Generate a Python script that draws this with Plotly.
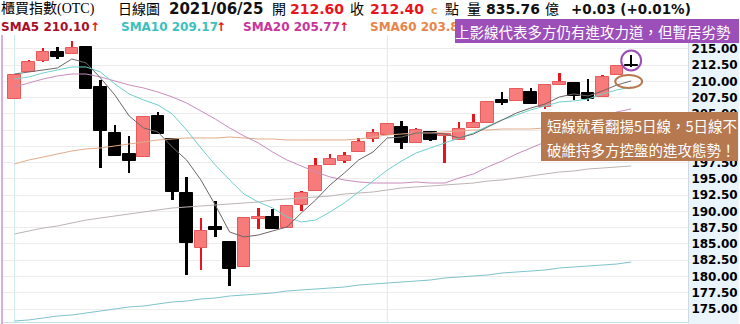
import plotly.graph_objects as go

# ---------------- data ----------------
idx = list(range(44))
opens = [207.31, 211.46, 213.15, 214.54, 214.23, 215.31, 209.15, 202.08, 198.85, 198.38,
         204.69, 201.15, 192.85, 184.38, 187.62, 185.31, 181.46, 188.85, 189.15, 187.46,
         191.00, 193.15, 197.15, 197.77, 199.15, 201.15, 201.77, 203.00, 200.54, 202.23,
         201.60, 201.00, 202.85, 203.62, 207.15, 207.00, 208.38, 206.08, 209.46, 209.77,
         208.23, 207.62, 211.00, 212.60]
highs = [211.00, 213.31, 215.15, 215.31, 216.23, 215.31, 210.23, 203.31, 201.62, 204.54,
         205.31, 201.15, 195.31, 189.00, 191.62, 185.46, 189.15, 190.54, 190.38, 190.85,
         193.15, 198.23, 198.85, 199.15, 201.31, 202.69, 203.62, 203.92, 202.85, 202.23,
         201.92, 203.77, 205.00, 206.85, 208.38, 209.00, 209.00, 209.46, 211.31, 209.77,
         210.38, 211.00, 212.37, 214.08]
lows = [207.31, 211.46, 213.00, 213.46, 214.23, 208.85, 196.69, 198.54, 195.92, 198.38,
        201.92, 191.77, 180.23, 181.00, 186.08, 178.54, 181.46, 187.31, 187.31, 187.46,
        190.08, 193.15, 197.15, 197.46, 199.15, 200.69, 201.77, 199.62, 200.54, 200.85,
        197.46, 201.00, 202.85, 203.62, 206.38, 207.00, 206.54, 205.77, 209.46, 207.15,
        207.00, 207.62, 211.00, 212.30]
closes = [211.00, 213.00, 214.54, 213.77, 215.15, 208.85, 202.38, 198.54, 197.77, 204.54,
          201.92, 193.00, 185.15, 187.00, 187.15, 181.15, 189.00, 189.15, 187.31, 190.85,
          192.85, 197.00, 198.08, 198.54, 200.69, 202.08, 203.46, 200.54, 202.54, 201.00,
          201.92, 202.69, 203.62, 206.85, 206.69, 208.85, 206.54, 209.46, 209.92, 207.77,
          207.31, 210.69, 212.37, 212.40]

sma5 = [211.15, 211.46, 211.77, 212.08, 213.46, 212.85, 210.54, 207.92, 204.69, 202.85,
        202.23, 199.92, 197.92, 194.85, 191.00, 186.85, 186.08, 186.38, 187.00, 187.62,
        189.77, 191.77, 194.08, 195.92, 197.92, 199.15, 201.31, 201.46, 202.08, 202.08,
        201.92, 201.31, 201.92, 203.00, 204.08, 205.15, 205.92, 206.54, 207.62, 208.08,
        207.77, 208.54, 209.46, 210.08]
sma10 = [210.38, 210.69, 211.31, 211.77, 212.23, 212.23, 211.46, 209.62, 208.08, 207.15,
         206.38, 205.00, 202.54, 199.77, 197.15, 194.85, 192.69, 191.46, 190.54, 189.15,
         188.38, 188.69, 189.92, 191.31, 193.00, 194.69, 196.38, 197.77, 199.00, 199.77,
         200.54, 201.31, 202.08, 203.15, 204.08, 204.85, 205.62, 206.23, 206.85, 207.00,
         207.31, 208.08, 208.69, 209.15]
sma20 = [209.15, 209.77, 210.38, 210.85, 211.15, 211.15, 210.69, 210.08, 209.46, 209.00,
         208.38, 207.62, 206.69, 205.46, 204.23, 202.85, 201.62, 200.54, 199.15, 197.92,
         197.00, 196.08, 195.31, 194.85, 194.54, 194.38, 194.38, 194.38, 194.54, 194.38,
         194.38, 195.15, 195.77, 196.85, 197.77, 198.85, 199.77, 200.69, 201.77, 202.69,
         203.62, 204.54, 205.31, 205.77]
sma60 = [197.31, 197.92, 198.38, 198.85, 199.31, 199.62, 199.77, 200.08, 200.38, 200.69,
         201.00, 201.15, 201.31, 201.31, 201.31, 201.46, 201.31, 201.15, 201.15, 201.00,
         201.00, 201.00, 201.00, 201.00, 201.15, 201.46, 201.77, 201.92, 202.08, 202.08,
         202.23, 202.38, 202.54, 202.54, 202.69, 202.69, 202.69, 202.85, 203.00, 203.15,
         203.31, 203.46, 203.62, 203.77]
sma120 = [186.54, 187.00, 187.46, 187.77, 188.23, 188.69, 189.00, 189.31, 189.62, 189.92,
          190.23, 190.54, 190.69, 190.85, 191.00, 191.15, 191.31, 191.46, 191.77, 191.92,
          192.08, 192.23, 192.38, 192.69, 192.85, 193.00, 193.31, 193.62, 193.77, 193.92,
          194.08, 194.23, 194.38, 194.69, 194.85, 195.15, 195.46, 195.77, 196.08, 196.23,
          196.54, 196.69, 196.85, 197.00]
sma240 = [173.15, 173.31, 173.62, 173.92, 174.08, 174.38, 174.69, 175.00, 175.31, 175.46,
          175.77, 176.08, 176.23, 176.54, 176.69, 177.00, 177.15, 177.31, 177.46, 177.77,
          177.92, 178.08, 178.23, 178.38, 178.69, 178.85, 179.00, 179.15, 179.31, 179.46,
          179.77, 179.92, 180.08, 180.23, 180.54, 180.69, 180.85, 181.00, 181.31, 181.46,
          181.62, 181.77, 181.92, 182.23]

month_marks = [0, 26]

# ---------------- styling ----------------
RED_FILL = "#f87b7b"
RED_LINE = "#e85a5a"
RED_WICK = "#e8141c"
BLACK = "#000000"

up = [c >= o for o, c in zip(opens, closes)]
wick_col = [RED_WICK if u else BLACK for u in up]
body_fill = [RED_FILL if u else BLACK for u in up]
body_line = [RED_LINE if u else BLACK for u in up]
body_base = [min(o, c) for o, c in zip(opens, closes)]
body_h = [max(abs(c - o), 0.18) for o, c in zip(opens, closes)]
wick_h = [h - l for h, l in zip(highs, lows)]

fig = go.Figure()
fig.add_trace(go.Bar(x=idx, y=wick_h, base=lows, width=0.18,
                     marker=dict(color=wick_col, line=dict(width=0)), hoverinfo="skip"))
fig.add_trace(go.Bar(x=idx, y=body_h, base=body_base, width=0.88,
                     marker=dict(color=body_fill, line=dict(color=body_line, width=1)),
                     hoverinfo="skip"))

for vals, col, w in [(sma240, "#7fc3cc", 1), (sma120, "#bdb5b5", 1), (sma60, "#e2ab8a", 1),
                     (sma20, "#c98cbd", 1), (sma10, "#6fd0cc", 1), (sma5, "#6e6666", 1)]:
    fig.add_trace(go.Scatter(x=idx, y=vals, mode="lines", line=dict(color=col, width=w),
                             hoverinfo="skip"))

W, H = 740, 324
L, R, T, B = 2, 50, 35, 2
PW, PH = W - L - R, H - T - B


def PX(x):
    return (x - L) / PW


def PY(y):
    return (H - B - y) / PH


shapes = []
# light blue axis-label background
shapes.append(dict(type="rect", xref="paper", yref="paper", x0=1, x1=PX(741), y0=PY(325), y1=1,
                   fillcolor="#eaf4fb", line=dict(width=0), layer="below"))
# left border
shapes.append(dict(type="line", xref="paper", yref="paper", x0=0, x1=0, y0=PY(324), y1=1,
                   line=dict(color="#d6aee4", width=2)))
# month separators
for m, c in zip(month_marks, ["#cdeceb", "#e6e6e6"]):
    shapes.append(dict(type="line", xref="x", yref="paper", x0=m, x1=m, y0=0, y1=1,
                       line=dict(color=c, width=1), layer="below"))
# circles
shapes.append(dict(type="circle", xref="paper", yref="paper", x0=PX(623), x1=PX(643),
                   y0=PY(70.5), y1=PY(50.5), line=dict(color="#9c4fb8", width=2)))
shapes.append(dict(type="circle", xref="paper", yref="paper", x0=PX(617), x1=PX(644),
                   y0=PY(88), y1=PY(75), line=dict(color="#b5784f", width=2)))

ann = []


def txt(x, y, s, size=14, color="black", family="Liberation Serif, Noto Sans CJK TC", bold=False):
    ann.append(dict(xref="paper", yref="paper", x=PX(x), y=PY(y), xanchor="left", yanchor="middle",
                    text=s, showarrow=False, borderpad=0,
                    font=dict(size=size, color=color, family=family,
                              weight="bold" if bold else "normal")))


NUM = "DejaVu Sans"
txt(0, 9, "櫃買指數(OTC)", 14)
txt(117, 9, "日線圖", 14)
txt(168, 9, "2021/06/25", 15, "#111111", NUM, True)
txt(272, 9, "開", 14)
txt(290, 9, "212.60", 14, "#e8141c", NUM, True)
txt(350, 9, "收", 14)
txt(370, 9, "212.40", 14, "#e8141c", NUM, True)
txt(431, 10, "c", 11, "#e8a040", NUM, True)
txt(445, 9, "點", 14)
txt(467, 9, "量", 14)
txt(486, 9, "835.76", 14, "#111111", NUM, True)
txt(546, 9, "億", 14)
txt(572, 9, "+0.03 (+0.01%)", 13.5, "#111111", NUM, True)

txt(0, 27, "SMA5 210.10", 12, "#a8102c", NUM, True)
txt(89, 27, "↑", 12, "#e8141c", NUM, True)
txt(120, 27, "SMA10 209.17", 12, "#3cc0c0", NUM, True)
txt(216, 27, "↑", 12, "#e8141c", NUM, True)
txt(243, 27, "SMA20 205.77", 12, "#c8359a", NUM, True)
txt(339, 27, "↑", 12, "#e8141c", NUM, True)
txt(370, 27, "SMA60 203.80", 12, "#e8844a", NUM, True)

CJK = "Noto Sans CJK TC"
# purple callout box
ann.append(dict(xref="paper", yref="paper", x=PX(456), y=PY(31), xanchor="left", yanchor="middle",
                text="上影線代表多方仍有進攻力道，但暫居劣勢", showarrow=False, align="left",
                width=284, height=24, bgcolor="#9c4fb8", borderpad=0, borderwidth=0,
                font=dict(size=14.5, color="white", family=CJK)))
# brown callout box
ann.append(dict(xref="paper", yref="paper", x=PX(543), y=PY(136.5), xanchor="left", yanchor="middle",
                text=" ", showarrow=False, width=197, height=49, bgcolor="#b5784f",
                borderpad=0, borderwidth=0, font=dict(size=10, color="white")))
txt(548, 125, "短線就看翻揚5日線，5日線不", 14.5, "white", CJK)
txt(548, 149, "破維持多方控盤的進攻態勢！", 14.5, "white", CJK)

fig.update_layout(
    width=W, height=H, margin=dict(l=L, r=R, t=T, b=B),
    paper_bgcolor="white", plot_bgcolor="white",
    barmode="overlay", showlegend=False, bargap=0,
    shapes=shapes, annotations=ann,
    xaxis=dict(range=[-0.868, 46.96], showticklabels=False, showgrid=False, zeroline=False,
               showline=True, linecolor="#c4e4ea", linewidth=1, fixedrange=True),
    yaxis=dict(range=[173.0, 217.15], side="right", dtick=2.5, tick0=175, tickformat=".2f",
               showgrid=True, gridcolor="#ececec", gridwidth=1, zeroline=False,
               showline=True, linecolor="#d0d8e4", linewidth=1, ticks="",
               tickfont=dict(family=NUM, size=12, color="black", weight="bold"), fixedrange=True),
)

fig.write_html("out.html")
